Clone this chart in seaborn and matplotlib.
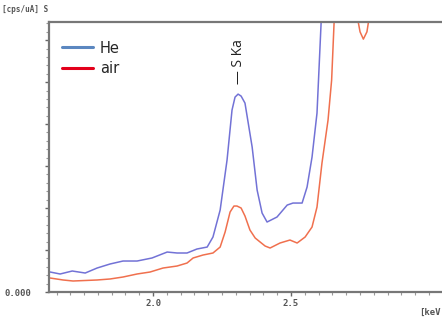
import numpy as np
import pandas as pd
import matplotlib
matplotlib.use("Agg")
import matplotlib.pyplot as plt
from matplotlib.lines import Line2D
from matplotlib.ticker import MultipleLocator
import seaborn as sns

# He curve (energy keV, intensity)
he_kev = [1.627, 1.663, 1.707, 1.754, 1.797, 1.844, 1.891, 1.942, 1.996, 2.051,
          2.087, 2.123, 2.159, 2.196, 2.217, 2.243, 2.268, 2.286, 2.297, 2.308,
          2.319, 2.333, 2.359, 2.377, 2.395, 2.413, 2.449, 2.486, 2.507, 2.540,
          2.558, 2.576, 2.594, 2.609, 2.620, 2.641, 3.040]
he_cps = [0.476, 0.429, 0.500, 0.452, 0.571, 0.667, 0.738, 0.738, 0.810, 0.952,
          0.929, 0.929, 1.024, 1.071, 1.310, 1.952, 3.143, 4.333, 4.643, 4.714,
          4.667, 4.500, 3.452, 2.429, 1.881, 1.667, 1.786, 2.071, 2.119, 2.119,
          2.500, 3.214, 4.262, 6.429, 8.38, 11.7, 14.1]

# air curve
air_kev = [1.627, 1.674, 1.710, 1.797, 1.844, 1.891, 1.942, 1.989, 2.036, 2.087,
           2.123, 2.145, 2.181, 2.217, 2.243, 2.261, 2.279, 2.293, 2.304, 2.319,
           2.333, 2.351, 2.370, 2.388, 2.406, 2.424, 2.460, 2.496, 2.522, 2.551,
           2.576, 2.594, 2.612, 2.634, 2.647, 2.656, 2.670, 2.696, 2.732, 2.744,
           2.750, 2.762, 2.775, 2.780, 2.790, 2.822, 3.040]
air_cps = [0.333, 0.286, 0.262, 0.286, 0.310, 0.357, 0.429, 0.476, 0.571, 0.619,
           0.690, 0.810, 0.881, 0.929, 1.071, 1.429, 1.905, 2.048, 2.048, 2.000,
           1.810, 1.476, 1.286, 1.190, 1.095, 1.048, 1.167, 1.238, 1.167, 1.310,
           1.548, 2.024, 3.071, 4.095, 5.048, 6.429, 8.38, 10.52, 7.9, 6.41,
           6.198, 6.024, 6.198, 6.41, 8.38, 11.7, 14.1]

he = pd.DataFrame({"kev": he_kev, "cps": he_cps})
air = pd.DataFrame({"kev": air_kev, "cps": air_cps})

sns.set_style("white")
fig = plt.figure(figsize=(4.42, 3.2), dpi=100)
ax = fig.add_axes([0.111, 0.0875, 0.889, 0.8435])

sns.lineplot(data=he, x="kev", y="cps", ax=ax, color="#7272d6", lw=1.1, sort=False)
sns.lineplot(data=air, x="kev", y="cps", ax=ax, color="#f0704e", lw=1.1, sort=False)

ax.set_xlim(1.623, 3.047)
ax.set_ylim(0, 6.43)
ax.set_xlabel("")
ax.set_ylabel("")

ax.xaxis.set_minor_locator(MultipleLocator(0.05))
ax.yaxis.set_minor_locator(MultipleLocator(0.2))
ax.set_xticks([2.0, 2.5])
ax.set_xticklabels(["2.0", "2.5"], fontsize=6.5, fontweight="bold",
                   color="#555555", family="DejaVu Sans Mono")
ax.set_yticks([0, 1, 2, 3, 4, 5, 6])
ax.set_yticklabels(["0.000", "", "", "", "", "", ""], fontsize=6.5,
                   fontweight="bold", color="#555555", family="DejaVu Sans Mono")
ax.tick_params(axis="both", which="both", bottom=True, left=True,
               direction="out")
ax.tick_params(axis="both", which="major", length=3, width=1, color="#666666")
ax.tick_params(axis="both", which="minor", length=2, width=0.8, color="#999999")
ax.tick_params(axis="x", pad=2)
ax.tick_params(axis="y", pad=10)

for side in ["left", "bottom", "top"]:
    ax.spines[side].set_color("#777777")
    ax.spines[side].set_linewidth(1.6)
ax.spines["right"].set_visible(False)

handles = [Line2D([], [], color="#5b87c0", lw=2.2),
           Line2D([], [], color="#e3001b", lw=2.2)]
ax.legend(handles, ["He", "air"], loc="upper left", bbox_to_anchor=(0.0, 0.98),
          frameon=False, fontsize=10.5, handlelength=2.1, labelspacing=0.4,
          handletextpad=0.5)

ax.text(2.308, 4.95, "— S Ka", rotation=90, ha="center", va="bottom",
        fontsize=10, color="#222222", family="Open Sans")

fig.text(0.005, 0.985, "[cps/uA] S", fontsize=5.5, va="top", ha="left",
         color="#555555", family="DejaVu Sans Mono", fontweight="bold")
fig.text(0.948, 0.01, "[keV", fontsize=6.5, va="bottom", ha="left",
         color="#555555", family="DejaVu Sans Mono", fontweight="bold")

fig.savefig("out.png", dpi=100)
